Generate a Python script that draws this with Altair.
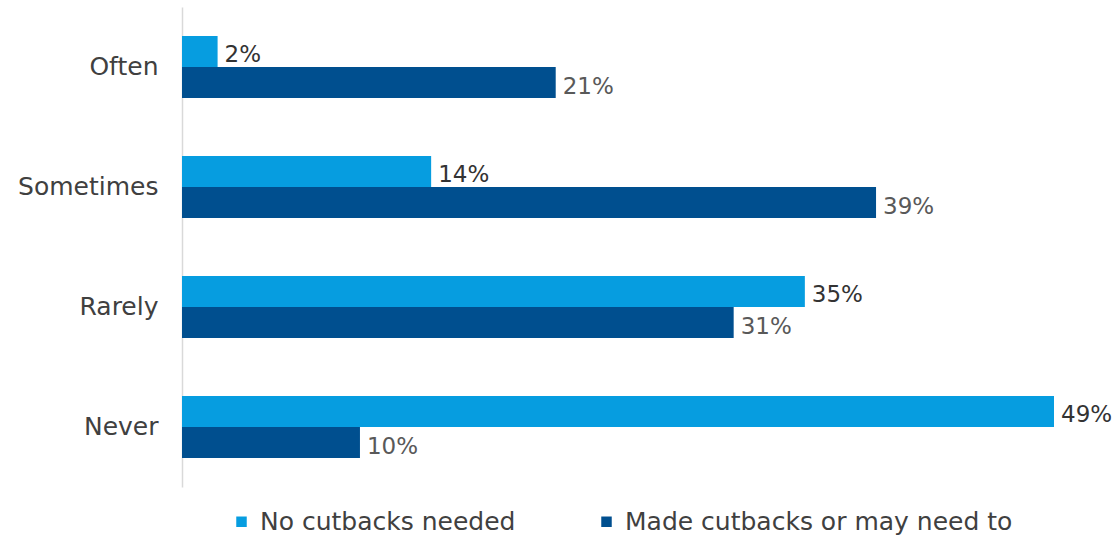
import altair as alt
import pandas as pd

categories = ["Often", "Sometimes", "Rarely", "Never"]
series_names = ["No cutbacks needed", "Made cutbacks or may need to"]
no_cutbacks = [2, 14, 35, 49]
made_cutbacks = [21, 39, 31, 10]

rows = []
for i, c in enumerate(categories):
    rows.append({"cat": c, "series": series_names[0], "value": no_cutbacks[i],
                 "label": f"{no_cutbacks[i]}%"})
    rows.append({"cat": c, "series": series_names[1], "value": made_cutbacks[i],
                 "label": f"{made_cutbacks[i]}%"})
df = pd.DataFrame(rows)

FONT = "DejaVu Sans"
colors = ["#069de0", "#004f8f"]

y_enc = alt.Y("cat:N", sort=categories, title=None,
              scale=alt.Scale(paddingInner=0.483, paddingOuter=0.2415),
              axis=alt.Axis(domainColor="#d9d9d9", domainWidth=1.5, ticks=False,
                            labelPadding=24, labelFontSize=25, labelFont=FONT,
                            labelColor="#404040", labelFontWeight="normal"))
yoff = alt.YOffset("series:N", sort=series_names, scale=alt.Scale(paddingInner=0, paddingOuter=0))
x_enc = alt.X("value:Q", title=None, scale=alt.Scale(domain=[0, 49], nice=False, zero=True),
              axis=None)

bars = alt.Chart(df).mark_bar(size=31).encode(
    x=x_enc, y=y_enc, yOffset=yoff,
    color=alt.Color("series:N", sort=series_names,
                    scale=alt.Scale(domain=series_names, range=colors),
                    legend=alt.Legend(title=None, orient="none", direction="horizontal",
                                      legendX=47, legendY=502, symbolType="square",
                                      symbolSize=110, symbolStrokeWidth=0,
                                      labelFont=FONT, labelFontSize=25, labelLimit=0,
                                      labelColor="#404040", columnPadding=78,
                                      labelOffset=6, padding=0)),
)

text = alt.Chart(df).mark_text(align="left", baseline="middle", dx=7, dy=4,
                               font=FONT, fontSize=23).encode(
    x=x_enc, y=alt.Y("cat:N", sort=categories), yOffset=yoff,
    text="label:N",
    color=alt.Color("series:N", sort=series_names,
                    scale=alt.Scale(domain=series_names, range=["#333333", "#595959"]),
                    legend=None),
)

chart = alt.layer(bars, text).resolve_scale(color="independent").properties(
    width=872, height=480,
    background="white",
    padding={"left": 182, "top": 7, "right": 64, "bottom": 53},
    autosize=alt.AutoSizeParams(type="none"),
).configure_view(strokeWidth=0, stroke=None)

chart.save("out.html", embed_options={"renderer": "svg", "actions": False})
